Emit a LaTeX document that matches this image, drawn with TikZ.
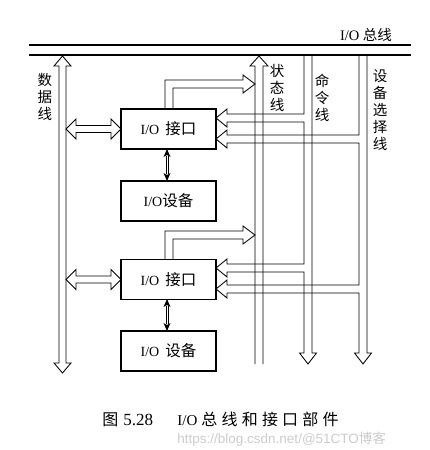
\documentclass[tikz,border=0pt]{standalone}
\usepackage{fontspec}
\setmainfont{Liberation Serif}
\newfontfamily\cjk{Noto Sans CJK SC}
\newfontfamily\wmfont{Liberation Sans}
\begin{document}
\begin{tikzpicture}[x=1pt,y=-1pt,line width=0.85pt,line join=miter,
  box/.style={draw,line width=1.2pt,minimum width=95pt,minimum height=40pt,inner sep=0pt},
  vlabel/.style={align=center,inner sep=0pt,font=\cjk\fontsize{14.5}{16.8}\selectfont},
  busline/.style={line width=1.3pt}]
\useasboundingbox (0,0) rectangle (430,450);

% bus
\draw[busline] (29,45) -- (411,45);
\draw[busline] (29,55) -- (411,55);
\node[inner sep=0pt] (buslabel) at (366,35) {\fontsize{14.5}{16}\selectfont I/O {\cjk 总线}};

% boxes
\node[box] (if1) at (168.5,129) {{\fontsize{14}{16}\selectfont I/O}\hspace{6pt}{\cjk\fontsize{15.5}{16}\selectfont 接口}};
\node[box] (dev1) at (168.5,201) {{\fontsize{14}{16}\selectfont I/O}{\cjk\fontsize{15.5}{16}\selectfont 设备}};
\node[box] (if2) at (168.5,279.5) {{\fontsize{14}{16}\selectfont I/O}\hspace{6pt}{\cjk\fontsize{15.5}{16}\selectfont 接口}};
\node[box] (dev2) at (168.5,351) {{\fontsize{14}{16}\selectfont I/O}\hspace{6pt}{\cjk\fontsize{15.5}{16}\selectfont 设备}};

% data line (double-headed hollow arrow)
\draw (62.5,56) -- (71,66) -- (66,66) -- (66,363) -- (71,363) -- (62.5,373)
      -- (54,363) -- (59,363) -- (59,66) -- (54,66) -- cycle;
\node[vlabel] (datalabel) at (45,97) {数\\据\\线};

% data branches
\foreach \yy in {129,279.5}{
  \draw (66,\yy) -- (76,\yy-10) -- (76,\yy-3.5) -- (111,\yy-3.5) -- (111,\yy-10)
        -- (121,\yy) -- (111,\yy+10) -- (111,\yy+3.5) -- (76,\yy+3.5) -- (76,\yy+10) -- cycle;
}

% interface <-> device small arrows
\foreach \ya/\yb in {149/181,299/331}{
  \draw[line width=0.6pt] (165.8,\ya+7) -- (165.8,\yb-7);
  \draw[line width=0.6pt] (168.2,\ya+7) -- (168.2,\yb-7);
  \fill (167,\ya) -- (170.5,\ya+8) -- (167,\ya+6) -- (163.5,\ya+8) -- cycle;
  \fill (167,\yb) -- (170.5,\yb-8) -- (167,\yb-6) -- (163.5,\yb-8) -- cycle;
}

% status line
\draw (255,364) -- (255,66) -- (250,66) -- (259,56) -- (268,66) -- (263,66) -- (263,364);
\node[vlabel] (statlabel) at (277,88) {状\\态\\线};

% status branches
\draw ([xshift=-3.5pt]if1.north) |- (243,80) -- (243,75) -- (255,84) -- (243,93) -- (243,88) -| ([xshift=4.5pt]if1.north);
\draw ([xshift=-3.5pt]if2.north) |- (243,231) -- (243,226) -- (255,235) -- (243,244) -- (243,239) -| ([xshift=4.5pt]if2.north);

% command line
\draw (304,55) -- (304,114) -- (227,114) -- (227,109) -- (216,118) -- (227,127) -- (227,122)
      -- (304,122) -- (304,264) -- (227,264) -- (227,259) -- (216,268) -- (227,277) -- (227,272)
      -- (304,272) -- (304,353) -- (299.5,353) -- (308,364) -- (316.5,353) -- (312,353) -- (312,55);
\node[vlabel] (cmdlabel) at (322,98) {命\\令\\线};

% device select line
\draw (359,55) -- (359,135) -- (227,135) -- (227,130) -- (216,139) -- (227,148) -- (227,143)
      -- (359,143) -- (359,285) -- (227,285) -- (227,280) -- (216,289) -- (227,298) -- (227,293)
      -- (359,293) -- (359,353) -- (354.5,353) -- (363,364) -- (371.5,353) -- (367,353) -- (367,55);
\node[vlabel] (sellabel) at (380,110) {设\\备\\选\\择\\线};

% caption
\node[anchor=base west,inner sep=0pt] (capnum) at (102,425)
  {{\cjk\fontsize{16}{18}\selectfont 图}\hspace{5pt}{\fontsize{17}{18}\selectfont 5.28}};
\node[anchor=base west,inner sep=0pt] (captext) at (177,425)
  {{\fontsize{15}{18}\selectfont I/O}\hspace{4pt}{\cjk\fontsize{16}{18}\selectfont 总\hspace{4.2pt}线\hspace{4.2pt}和\hspace{4.2pt}接\hspace{4.2pt}口\hspace{4.2pt}部\hspace{4.2pt}件}};
\node[anchor=base west,inner sep=0pt,text=gray!40] (wm) at (177,443)
  {\wmfont\fontsize{13.5}{15}\selectfont https://blog.csdn.net/@51CTO{\cjk 博客}};
\end{tikzpicture}
\end{document}
